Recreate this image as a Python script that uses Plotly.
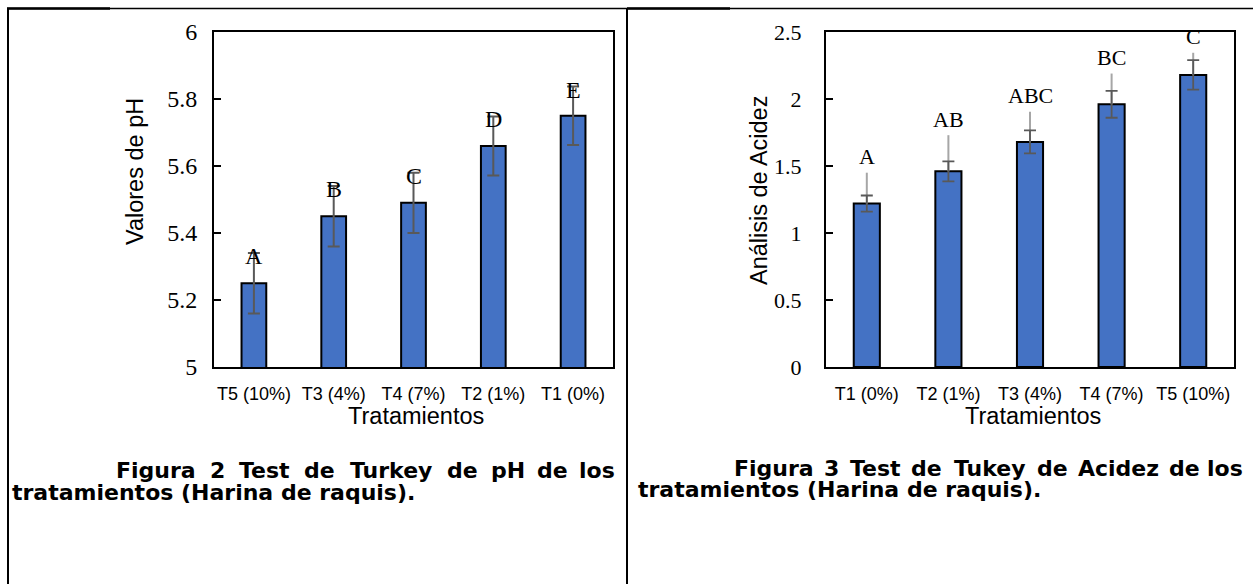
import plotly.graph_objects as go

W, H = 1253, 584

# ---------------- data ----------------
ph_categories = ["T5 (10%)", "T3 (4%)", "T4 (7%)", "T2 (1%)", "T1 (0%)"]
ph_values = [5.25, 5.45, 5.49, 5.66, 5.75]
ph_error = [0.09, 0.09, 0.09, 0.088, 0.087]
ph_letters = ["A", "B", "C", "D", "E"]

ac_categories = ["T1 (0%)", "T2 (1%)", "T3 (4%)", "T4 (7%)", "T5 (10%)"]
ac_values = [1.22, 1.46, 1.68, 1.96, 2.18]
ac_error_dark = [0.06, 0.075, 0.086, 0.10, 0.11]
ac_error_light = [0.23, 0.27, 0.225, 0.23, 0.165]
ac_letters = ["A", "AB", "ABC", "BC", "C"]

ph_yticks = [5, 5.2, 5.4, 5.6, 5.8, 6]
ac_yticks = [0, 0.5, 1, 1.5, 2, 2.5]

caption_left = ["Figura 2 Test de Turkey de pH de los", "tratamientos (Harina de raquis)."]
caption_right = ["Figura 3 Test de Tukey de Acidez de los", "tratamientos (Harina de raquis)."]

# ---------------- style ----------------
BLUE = "#4472C4"
DARK = "#595959"
LIGHT = "#A6A6A6"
SERIF = "Liberation Serif"
SANS = "Liberation Sans"

def px(x):
    return x / W

def py(y):
    return 1 - y / H

fig = go.Figure()

# left chart
fig.add_trace(go.Bar(x=ph_categories, y=ph_values, width=0.31,
                     marker=dict(color=BLUE, line=dict(color="black", width=2)),
                     xaxis="x", yaxis="y", showlegend=False, hoverinfo="skip"))
fig.add_trace(go.Scatter(x=ph_categories, y=ph_values, mode="markers",
                         marker=dict(size=1, opacity=0),
                         error_y=dict(type="data", array=ph_error, color=DARK,
                                      thickness=2, width=6),
                         xaxis="x", yaxis="y", showlegend=False, hoverinfo="skip"))

# right chart
fig.add_trace(go.Bar(x=ac_categories, y=ac_values, width=0.32,
                     marker=dict(color=BLUE, line=dict(color="black", width=2)),
                     xaxis="x2", yaxis="y2", showlegend=False, hoverinfo="skip"))
fig.add_trace(go.Scatter(x=ac_categories, y=ac_values, mode="markers",
                         marker=dict(size=1, opacity=0),
                         error_y=dict(type="data", symmetric=False, array=ac_error_light,
                                      arrayminus=[0] * len(ac_values), color=LIGHT,
                                      thickness=2, width=0),
                         xaxis="x2", yaxis="y2", showlegend=False, hoverinfo="skip"))
fig.add_trace(go.Scatter(x=ac_categories, y=ac_values, mode="markers",
                         marker=dict(size=1, opacity=0),
                         error_y=dict(type="data", array=ac_error_dark, color=DARK,
                                      thickness=1.8, width=6),
                         xaxis="x2", yaxis="y2", showlegend=False, hoverinfo="skip"))

annotations = []
for c, v, e, t in zip(ph_categories, ph_values, ph_error, ph_letters):
    annotations.append(dict(x=c, y=v + e, xref="x", yref="y", text=t, showarrow=False,
                            yanchor="middle", yshift=-3,
                            font=dict(family=SERIF, size=24, color="black")))
for c, v, e, t in zip(ac_categories, ac_values, ac_error_light, ac_letters):
    annotations.append(dict(x=c, y=v + e, xref="x2", yref="y2", text=t, showarrow=False,
                            yanchor="middle", yshift=16,
                            font=dict(family=SERIF, size=22, color="black")))

# axis titles
title_font = dict(family=SANS, size=23.5, color="black")
annotations += [
    dict(x=px(416), y=py(416), xref="paper", yref="paper", text="Tratamientos",
         showarrow=False, xanchor="center", yanchor="middle", font=title_font),
    dict(x=px(1033), y=py(416), xref="paper", yref="paper", text="Tratamientos",
         showarrow=False, xanchor="center", yanchor="middle", font=title_font),
    dict(x=px(135), y=py(172), xref="paper", yref="paper", text="Valores de pH",
         textangle=-90, showarrow=False, xanchor="center", yanchor="middle", font=title_font),
    dict(x=px(759), y=py(191), xref="paper", yref="paper", text="Análisis de Acidez",
         textangle=-90, showarrow=False, xanchor="center", yanchor="middle", font=title_font),
]

# captions (justified first line)
CAP_SIZE = 22
cap_font = dict(family="DejaVu Sans", size=CAP_SIZE, color="black")
wtab = {" ": .348, "a": .675, "c": .593, "d": .716, "e": .678, "g": .716, "i": .343,
        "k": .665, "l": .343, "n": .712, "o": .687, "p": .716, "r": .493, "s": .595,
        "t": .478, "u": .712, "y": .652, "z": .582, "A": .774, "F": .683, "H": .837,
        "T": .682, "2": .696, "3": .696}

def text_w(s):
    return sum(wtab.get(ch, .65) for ch in s) * CAP_SIZE * 1.04

def justified(line, x0, x1, yc):
    words = line.split(" ")
    total = sum(text_w(w) for w in words)
    gap = (x1 - x0 - total) / (len(words) - 1)
    out = []
    x = x0
    for i, w in enumerate(words):
        if i == len(words) - 1:
            out.append(dict(x=px(x1), y=py(yc), xref="paper", yref="paper", text="<b>%s</b>" % w,
                            showarrow=False, xanchor="right", yanchor="middle", font=cap_font))
        else:
            out.append(dict(x=px(x + text_w(w) / 2), y=py(yc), xref="paper", yref="paper",
                            text="<b>%s</b>" % w, showarrow=False, xanchor="center",
                            yanchor="middle", font=cap_font))
        x += text_w(w) + gap
    return out

annotations += justified(caption_left[0], 115, 617, 471)
annotations.append(dict(x=px(10), y=py(492), xref="paper", yref="paper",
                        text="<b>%s</b>" % caption_left[1], showarrow=False,
                        xanchor="left", yanchor="middle", font=cap_font))
annotations += justified(caption_right[0], 733, 1245, 468)
annotations.append(dict(x=px(636), y=py(489), xref="paper", yref="paper",
                        text="<b>%s</b>" % caption_right[1], showarrow=False,
                        xanchor="left", yanchor="middle", font=cap_font))

# table borders
shapes = [
    dict(type="line", xref="paper", yref="paper", x0=px(7), x1=px(1253), y0=py(8.5), y1=py(8.5),
         line=dict(color="black", width=1.5)),
    dict(type="line", xref="paper", yref="paper", x0=px(7), x1=px(110), y0=py(8.5), y1=py(8.5),
         line=dict(color="black", width=2.5)),
    dict(type="line", xref="paper", yref="paper", x0=px(627), x1=px(730), y0=py(8.5), y1=py(8.5),
         line=dict(color="black", width=2.5)),
    dict(type="line", xref="paper", yref="paper", x0=px(8), x1=px(8), y0=py(8), y1=py(584),
         line=dict(color="black", width=2)),
    dict(type="line", xref="paper", yref="paper", x0=px(627), x1=px(627), y0=py(8), y1=py(584),
         line=dict(color="black", width=2)),
]

axis_common = dict(showline=True, linecolor="black", linewidth=2, mirror=True,
                   showgrid=False, zeroline=False, automargin=False, fixedrange=True)

fig.update_layout(
    width=W, height=H,
    autosize=False,
    margin=dict(l=0, r=0, t=0, b=0, pad=0, autoexpand=False),
    paper_bgcolor="white", plot_bgcolor="white",
    showlegend=False,
    xaxis=dict(domain=[px(214), px(613)], anchor="y", type="category",
               categoryorder="array", categoryarray=ph_categories,
               ticks="", tickfont=dict(family=SANS, size=18, color="black"),
               ticklabelstandoff=9, **axis_common),
    yaxis=dict(domain=[py(367), py(32)], anchor="x", range=[5, 6],
               tickvals=ph_yticks, ticktext=[("%g" % v) for v in ph_yticks],
               ticks="inside", ticklen=7, tickwidth=1.5, tickcolor="black",
               tickfont=dict(family=SERIF, size=24, color="black"),
               ticklabelstandoff=10, **axis_common),
    xaxis2=dict(domain=[px(826), px(1234)], anchor="y2", type="category",
                categoryorder="array", categoryarray=ac_categories,
                ticks="", tickfont=dict(family=SANS, size=18, color="black"),
                ticklabelstandoff=9, **axis_common),
    yaxis2=dict(domain=[py(367), py(32)], anchor="x2", range=[0, 2.5],
                tickvals=ac_yticks, ticktext=[("%g" % v) for v in ac_yticks],
                ticks="inside", ticklen=7, tickwidth=1.5, tickcolor="black",
                tickfont=dict(family=SERIF, size=22, color="black"),
                ticklabelstandoff=18, **axis_common),
    annotations=annotations,
    shapes=shapes,
)

fig.write_html("out.html", config={"displayModeBar": False})
